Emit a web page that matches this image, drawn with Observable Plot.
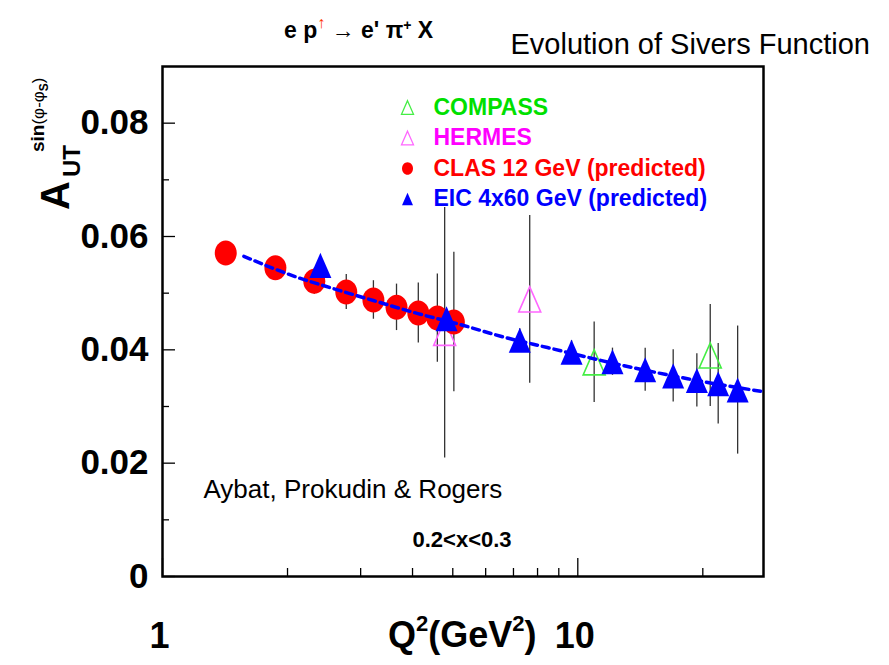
<!DOCTYPE html>
<html><head><meta charset="utf-8">
<script src="https://cdn.jsdelivr.net/npm/d3@7"></script>
<script src="https://cdn.jsdelivr.net/npm/@observablehq/plot@0.6"></script>
<style>body{margin:0;background:#fff;} #chart svg{display:block;}</style>
</head><body><div id="chart"></div>
<script>
// ---- data ----
const clasQ2  = [1.42, 1.87, 2.32, 2.77, 3.22, 3.66, 4.13, 4.59, 5.03];
const clasA   = [0.0571, 0.0545, 0.0521, 0.0502, 0.0488, 0.0475, 0.0465, 0.0456, 0.0449];
const clasErr = [0.0010, 0.0015, 0.0023, 0.0031, 0.0034, 0.0041, 0.0053, 0.0078, 0.0123];

const eicQ2  = [2.40, 4.83, 7.25, 9.66, 12.12, 14.53, 16.97, 19.35, 21.78, 24.26];
const eicA   = [0.0549, 0.0455, 0.0417, 0.0396, 0.0379, 0.0365, 0.0354, 0.0346, 0.0340, 0.0329];
const eicErr = [0.0010, 0.0015, 0.0020, 0.0020, 0.0024, 0.0038, 0.0046, 0.0047, 0.0071, 0.0113];

const compassQ2  = [10.95, 20.84];
const compassA   = [0.0378, 0.0390];
const compassErr = [0.0071, 0.0090];

const hermesQ2  = [4.78, 7.66];
const hermesA   = [0.0430, 0.0489];
const hermesErr = [0.0221, 0.0148];

const curveQ2 = [1.57, 2.11, 2.58, 3.22, 4.12, 5.31, 6.52, 8.45, 12.93, 18.38, 28];
const curveA  = [0.0565, 0.0528, 0.0508, 0.0487, 0.0464, 0.0443, 0.0424, 0.0404, 0.0372, 0.0349, 0.0326];

const yTicks = [0, 0.02, 0.04, 0.06, 0.08];
const yTickLabels = ["0", "0.02", "0.04", "0.06", "0.08"];
const yMinorTicks = [0.01, 0.03, 0.05, 0.07];
const xTicks = [1, 10];
const xTickLabels = ["1", "10"];
const xMinorTicks = [2, 3, 4, 5, 6, 7, 8, 9, 20];

const legendLabels = ["COMPASS", "HERMES", "CLAS 12 GeV (predicted)", "EIC 4x60 GeV (predicted)"];

// ---- build tables ----
const mk = (Q, A, E) => Q.map((q, i) => ({q, a: A[i], e: E[i]}));
const clas = mk(clasQ2, clasA, clasErr);
const eic = mk(eicQ2, eicA, eicErr);
const compass = mk(compassQ2, compassA, compassErr);
const hermes = mk(hermesQ2, hermesA, hermesErr);
const curve = curveQ2.map((q, i) => ({q, a: curveA[i]}));
const allPts = [...hermes, ...compass, ...clas, ...eic];

// ---- styling ----
const FONT = "'Liberation Sans', Arial, Helvetica, sans-serif";
const W = 889, H = 665, mL = 162, mR = 126, mT = 66, mB = 89;
const fw = W - mL - mR, fh = H - mT - mB;
const STRETCH = 1.14;
const ellipseSym = {draw(ctx, size) {
  const r = Math.sqrt(size / Math.PI), ry = r * STRETCH, k = 0.5523;
  ctx.moveTo(r, 0);
  ctx.bezierCurveTo(r, k * ry, k * r, ry, 0, ry);
  ctx.bezierCurveTo(-k * r, ry, -r, k * ry, -r, 0);
  ctx.bezierCurveTo(-r, -k * ry, -k * r, -ry, 0, -ry);
  ctx.bezierCurveTo(k * r, -ry, r, -k * ry, r, 0);
  ctx.closePath();
}};
const triSym = {draw(ctx, size) {
  const r = Math.sqrt(size / Math.PI), h = r * STRETCH;
  ctx.moveTo(0, -h); ctx.lineTo(r, h); ctx.lineTo(-r, h); ctx.closePath();
}};

const legendStyle = [
  {color: "#00e000", sym: triSym, fill: "none", stroke: "#44ee44", r: 6},
  {color: "#ff00ff", sym: triSym, fill: "none", stroke: "#ff66ff", r: 6},
  {color: "#ff0000", sym: ellipseSym, fill: "#ff0000", stroke: "none", r: 5.5},
  {color: "#0000ff", sym: triSym, fill: "#0000ff", stroke: "none", r: 5.5}
];
const legendMarks = legendLabels.flatMap((lab, i) => {
  const s = legendStyle[i];
  const dy = 41 + i * 30.5;
  return [
    Plot.dot([lab], {frameAnchor: "top-left", dx: 245, dy, r: s.r, symbol: s.sym, fill: s.fill, stroke: s.stroke, strokeWidth: 1.3}),
    Plot.text([lab], {frameAnchor: "top-left", dx: 271, dy, text: d => d, textAnchor: "start", lineAnchor: "middle",
      fill: s.color, fontSize: 23, fontWeight: "bold"})
  ];
});

const chart = Plot.plot({
  width: W, height: H,
  marginLeft: mL, marginRight: mR, marginTop: mT, marginBottom: mB,
  style: {fontFamily: FONT, background: "white", overflow: "visible"},
  x: {type: "log", domain: [1, 28], axis: null},
  y: {domain: [0, 0.09], axis: null},
  marks: [
    // inward ticks
    Plot.ruleX(xMinorTicks, {x: d => d, insetTop: fh - 8, stroke: "black", strokeWidth: 1.3}),
    Plot.ruleX(xTicks, {x: d => d, insetTop: fh - 18, stroke: "black", strokeWidth: 1.3}),
    Plot.ruleY(yMinorTicks, {y: d => d, insetRight: fw - 7, stroke: "black", strokeWidth: 1.3}),
    Plot.ruleY(yTicks, {y: d => d, insetRight: fw - 13, stroke: "black", strokeWidth: 1.3}),
    Plot.frame({stroke: "black", strokeWidth: 2.5}),
    // tick labels
    Plot.text(yTicks, {y: d => d, text: (d, i) => yTickLabels[i], frameAnchor: "left", dx: -14, textAnchor: "end",
      lineAnchor: "middle", fontSize: 35, fontWeight: "bold", fill: "black"}),
    Plot.text(xTicks, {x: d => d, text: (d, i) => xTickLabels[i], frameAnchor: "bottom", dy: 71, dx: -3, lineAnchor: "bottom",
      fontSize: 36, fontWeight: "bold", fill: "black"}),
    // error bars
    Plot.ruleX(allPts, {x: "q", y1: d => d.a - d.e, y2: d => d.a + d.e, stroke: "#333", strokeWidth: 1.3}),
    // markers
    Plot.dot(hermes, {x: "q", y: "a", r: 11, symbol: triSym, fill: "none", stroke: "#ff66ff", strokeWidth: 1.6}),
    Plot.dot(compass, {x: "q", y: "a", r: 11, symbol: triSym, fill: "none", stroke: "#44ee44", strokeWidth: 1.6}),
    Plot.dot(clas, {x: "q", y: "a", r: 11, symbol: ellipseSym, fill: "#ff0000", stroke: "none"}),
    Plot.line(curve, {x: "q", y: "a", curve: "monotone-x", stroke: "#0000ff", strokeWidth: 3.5, strokeDasharray: "7,5"}),
    Plot.dot(eic, {x: "q", y: "a", r: 11, symbol: triSym, fill: "#0000ff", stroke: "none"}),
    // legend
    ...legendMarks,
    // annotations
    Plot.text(["Aybat, Prokudin & Rogers"], {frameAnchor: "bottom-left", dx: 41, dy: -79, text: d => d,
      textAnchor: "start", lineAnchor: "bottom", fontSize: 26, fill: "black"}),
    Plot.text(["0.2<x<0.3"], {frameAnchor: "bottom-left", dx: 250, dy: -30, text: d => d,
      textAnchor: "start", lineAnchor: "bottom", fontSize: 22, fontWeight: "bold", fill: "black"}),
    Plot.text(["Evolution of Sivers Function"], {frameAnchor: "top-left", dx: 348, dy: -13, text: d => d,
      textAnchor: "start", lineAnchor: "bottom", fontSize: 29, fill: "black"})
  ]
});
document.getElementById("chart").appendChild(chart);

// ---- rich labels with super/subscripts ----
const svg = d3.select(chart);
function rich(x, y, rotate, parts) {
  const t = svg.append("text")
    .attr("transform", `translate(${x},${y})` + (rotate ? ` rotate(${rotate})` : ""))
    .attr("text-anchor", "start")
    .attr("font-family", FONT).attr("fill", "black");
  for (const p of parts) {
    const s = t.append("tspan").text(p.t);
    if (p.size) s.attr("font-size", p.size);
    s.attr("font-weight", p.bold === false ? "normal" : "bold");
    if (p.dy) s.attr("dy", p.dy);
    if (p.dx) s.attr("dx", p.dx);
    if (p.fill) s.attr("fill", p.fill);
  }
}
// title
rich(284, 38, 0, [
  {t: "e p", size: 23},
  {t: "↑", size: 16, dy: -10, fill: "#ff3300", bold: false},
  {t: " → e' π", size: 23, dy: 10},
  {t: "+", size: 14, dy: -8},
  {t: " X", size: 23, dy: 8}
]);
// x-axis label
rich(388, 647, 0, [
  {t: "Q", size: 36},
  {t: "2", size: 22, dy: -16},
  {t: "(GeV", size: 36, dy: 16},
  {t: "2", size: 22, dy: -16},
  {t: ")", size: 36, dy: 16}
]);
// y-axis label
rich(69, 210, -90, [{t: "A", size: 40}]);
rich(80, 177, -90, [{t: "UT", size: 24}]);
rich(44, 152, -90, [
  {t: "sin", size: 19},
  {t: "(φ-φ", size: 17, bold: false},
  {t: "S", size: 12, dy: 4},
  {t: ")", size: 17, dy: -4, bold: false}
]);
</script>
</body></html>
